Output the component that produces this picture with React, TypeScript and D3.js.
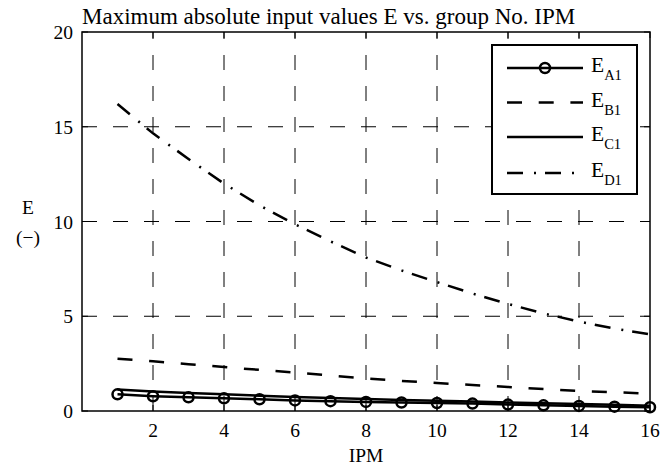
import React from "react";
import * as d3 from "d3";

const ipm = [1, 2, 3, 4, 5, 6, 7, 8, 9, 10, 11, 12, 13, 14, 15, 16];
const eA1 = [0.88, 0.78, 0.72, 0.67, 0.62, 0.56, 0.52, 0.48, 0.45, 0.42, 0.39, 0.34, 0.3, 0.27, 0.23, 0.2];
const eB1 = [2.76, 2.62, 2.47, 2.32, 2.17, 2.03, 1.87, 1.71, 1.59, 1.48, 1.37, 1.27, 1.16, 1.06, 0.99, 0.92];
const eC1 = [1.13, 1.03, 0.95, 0.88, 0.81, 0.74, 0.68, 0.63, 0.58, 0.54, 0.5, 0.45, 0.41, 0.37, 0.33, 0.28];
const eD1 = [16.2, 14.65, 13.3, 12.0, 10.85, 9.85, 8.95, 8.1, 7.42, 6.8, 6.2, 5.65, 5.15, 4.72, 4.35, 4.05];
const xTicks = [2, 4, 6, 8, 10, 12, 14, 16];
const yTicks = [0, 5, 10, 15, 20];
const seriesNames = ["A1", "B1", "C1", "D1"];
const titleText = "Maximum absolute input values E vs. group No. IPM";

const W = 672, H = 468;
const L = 82, R = 650, T = 32, B = 411;
const font = "Liberation Serif";

export default function App() {
  const x = d3.scaleLinear().domain([0, 16]).range([L, R]);
  const y = d3.scaleLinear().domain([0, 20]).range([B, T]);
  const line = d3.line<number>().x((_, i) => x(ipm[i])).y((d) => y(d));
  const styles = [
    { d: eA1, dash: undefined, marker: true },
    { d: eB1, dash: "15,16.7", marker: false },
    { d: eC1, dash: undefined, marker: false },
    { d: eD1, dash: "16,11,2,9", marker: false },
  ];
  const tickLen = 6;
  const legX = 492, legY = 45, legW = 145, legH = 149;
  const rowY = [68, 102.5, 137, 173];
  return (
    <svg width={W} height={H} style={{ position: "absolute", left: 0, top: 0, background: "#fff", fontFamily: font }}>
      <rect x={0} y={0} width={W} height={H} fill="#fff" />
      {xTicks.filter((t) => t < 16).map((t) => (
        <line key={"gx" + t} x1={x(t)} x2={x(t)} y1={B} y2={T} stroke="#000" strokeWidth={1} strokeDasharray="15,16" />
      ))}
      {yTicks.filter((t) => t > 0 && t < 20).map((t) => (
        <line key={"gy" + t} x1={L} x2={R} y1={y(t)} y2={y(t)} stroke="#000" strokeWidth={1} strokeDasharray="15,16" />
      ))}
      {xTicks.map((t) => (
        <g key={"tx" + t}>
          <line x1={x(t)} x2={x(t)} y1={B} y2={B - tickLen} stroke="#000" strokeWidth={1} />
          <line x1={x(t)} x2={x(t)} y1={T} y2={T + tickLen} stroke="#000" strokeWidth={1} />
          <text x={x(t)} y={437} textAnchor="middle" fontSize={19.5} style={{ fontFamily: font }}>{t}</text>
        </g>
      ))}
      {yTicks.map((t) => (
        <g key={"ty" + t}>
          <line x1={L} x2={L + tickLen} y1={y(t)} y2={y(t)} stroke="#000" strokeWidth={1} />
          <line x1={R} x2={R - tickLen} y1={y(t)} y2={y(t)} stroke="#000" strokeWidth={1} />
          <text x={73} y={y(t) + 7} textAnchor="end" fontSize={19.5} style={{ fontFamily: font }}>{t}</text>
        </g>
      ))}
      {styles.map((s, i) => (
        <path key={"s" + i} d={line(s.d) || ""} fill="none" stroke="#000" strokeWidth={2.5} strokeDasharray={s.dash} />
      ))}
      {eA1.map((v, i) => (
        <circle key={"m" + i} cx={x(ipm[i])} cy={y(v)} r={5} fill="none" stroke="#000" strokeWidth={2.5} />
      ))}
      <rect x={L} y={T} width={R - L} height={B - T} fill="none" stroke="#000" strokeWidth={1.5} />
      <rect x={legX} y={legY} width={legW} height={legH} fill="#fff" stroke="#000" strokeWidth={2} />
      {seriesNames.map((n, i) => (
        <g key={"l" + n}>
          <line x1={507} x2={583} y1={rowY[i]} y2={rowY[i]} stroke="#000" strokeWidth={2.5} strokeDasharray={styles[i].dash} />
          {styles[i].marker && <circle cx={545} cy={rowY[i]} r={5} fill="none" stroke="#000" strokeWidth={2.5} />}
          <text x={591} y={rowY[i] + 4} fontSize={21.5} style={{ fontFamily: font }}>
            E<tspan fontSize={14.5} dy={8}>{n}</tspan>
          </text>
        </g>
      ))}
      <text x={82} y={24} fontSize={23} style={{ fontFamily: font }}>{titleText}</text>
      <text x={366} y={462} textAnchor="middle" fontSize={19.5} style={{ fontFamily: font }}>IPM</text>
      <text x={28} y={214} textAnchor="middle" fontSize={19.5} style={{ fontFamily: font }}>E</text>
      <text x={28} y={243.5} textAnchor="middle" fontSize={19.5} style={{ fontFamily: font }}>(−)</text>
    </svg>
  );
}
